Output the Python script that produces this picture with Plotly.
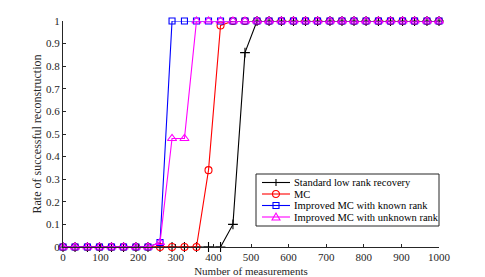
import plotly.graph_objects as go

measurements = [0, 32, 65, 97, 129, 161, 194, 226, 258, 290, 323, 355, 387, 419, 452, 484,
                516, 548, 581, 613, 645, 677, 710, 742, 774, 806, 839, 871, 903, 935, 968, 1000]

standard_lrr = [0]*14 + [0.1, 0.86] + [1]*16
mc = [0]*12 + [0.34, 0.98] + [1]*18
improved_known = [0]*8 + [0.02] + [1]*23
improved_unknown = [0]*8 + [0.02, 0.48, 0.48] + [1]*21

series_names = ["Standard low rank recovery", "MC", "Improved MC with known rank",
                "Improved MC with unknown rank"]

x_ticks = [0, 100, 200, 300, 400, 500, 600, 700, 800, 900, 1000]
y_ticks = [0, 0.1, 0.2, 0.3, 0.4, 0.5, 0.6, 0.7, 0.8, 0.9, 1]

colors = ["#000000", "#ff0000", "#0000ff", "#ff00ff"]
symbols = ["cross-thin", "circle-open", "square-open", "triangle-up-open"]
sizes = [7, 7, 6, 8]

SERIF = "Liberation Serif, Times New Roman, Times, serif"

fig = go.Figure()
for name, ys, c, s, sz in zip(series_names, [standard_lrr, mc, improved_known, improved_unknown],
                              colors, symbols, sizes):
    fig.add_trace(go.Scatter(
        x=measurements, y=ys, name=name, mode="lines+markers",
        line=dict(color=c, width=1.1),
        marker=dict(symbol=s, size=sz, color=c, line=dict(color=c, width=1.1)),
        cliponaxis=False, showlegend=False,
    ))

# page geometry: the html body has an 8px margin, so the figure starts at (8, 8)
OFF = 8
PAGE_W, PAGE_H = 485, 277
W, H = PAGE_W - OFF, PAGE_H - OFF
PX0, PX1, PY0, PY1 = 63, 439, 21, 247   # plot area in page pixels
ML, MR, MT, MB = PX0 - OFF, W - (PX1 - OFF), PY0 - OFF, H - (PY1 - OFF)
PW, PH = PX1 - PX0, PY1 - PY0


def px(x):
    return (x - PX0) / PW


def py(y):
    return (PY1 - y) / PH


axis_col = "#262626"

# custom compact legend (as in the original)
shapes = []
annotations = []
lx0, lx1, ly0, ly1 = 256, 439, 174, 226
shapes.append(dict(type="rect", xref="paper", yref="paper",
                   x0=px(lx0), x1=px(lx1), y0=py(ly1), y1=py(ly0),
                   line=dict(color=axis_col, width=1), fillcolor="white", layer="above"))
row_y = [182.5, 194, 205.5, 217]
for i, (name, c) in enumerate(zip(series_names, colors)):
    yy = row_y[i]
    shapes.append(dict(type="line", xref="paper", yref="paper",
                       x0=px(262), x1=px(290), y0=py(yy), y1=py(yy),
                       line=dict(color=c, width=1.1), layer="above"))
    cx = 276
    if i == 0:
        shapes.append(dict(type="line", xref="paper", yref="paper",
                           x0=px(cx), x1=px(cx), y0=py(yy - 3.5), y1=py(yy + 3.5),
                           line=dict(color=c, width=1.1), layer="above"))
    elif i == 1:
        shapes.append(dict(type="circle", xref="paper", yref="paper",
                           x0=px(cx - 3.5), x1=px(cx + 3.5), y0=py(yy + 3.5), y1=py(yy - 3.5),
                           line=dict(color=c, width=1.1), fillcolor="rgba(0,0,0,0)", layer="above"))
    elif i == 2:
        shapes.append(dict(type="rect", xref="paper", yref="paper",
                           x0=px(cx - 3), x1=px(cx + 3), y0=py(yy + 3), y1=py(yy - 3),
                           line=dict(color=c, width=1.1), fillcolor="rgba(0,0,0,0)", layer="above"))
    else:
        path = "M {} {} L {} {} L {} {} Z".format(px(cx - 4), py(yy + 3), px(cx + 4), py(yy + 3),
                                                 px(cx), py(yy - 4))
        shapes.append(dict(type="path", xref="paper", yref="paper", path=path,
                           line=dict(color=c, width=1.1), fillcolor="rgba(0,0,0,0)", layer="above"))
    annotations.append(dict(xref="paper", yref="paper", x=px(292), y=py(yy),
                            xanchor="left", yanchor="middle", showarrow=False,
                            text=name, font=dict(family=SERIF, size=10.5, color="#000000")))

fig.update_layout(
    width=W, height=H,
    margin=dict(l=ML, r=MR, t=MT, b=MB, pad=0),
    plot_bgcolor="white", paper_bgcolor="white",
    font=dict(family=SERIF, size=11, color=axis_col),
    showlegend=False,
    shapes=shapes, annotations=annotations,
    xaxis=dict(
        range=[0, 1000], tickvals=x_ticks, ticks="inside", ticklen=3, tickcolor=axis_col,
        showline=True, linecolor=axis_col, linewidth=1, mirror=False,
        showgrid=False, zeroline=False, automargin=False,
        title=dict(text="Number of measurements", font=dict(size=11), standoff=5),
    ),
    yaxis=dict(
        range=[0, 1], tickvals=y_ticks, ticktext=[str(v) for v in y_ticks],
        ticks="inside", ticklen=3, tickcolor=axis_col,
        showline=True, linecolor=axis_col, linewidth=1, mirror=False,
        showgrid=False, zeroline=False, automargin=False,
        title=dict(text="Rate of successful reconstruction", font=dict(size=12), standoff=1),
    ),
)

fig.write_html("out.html")
